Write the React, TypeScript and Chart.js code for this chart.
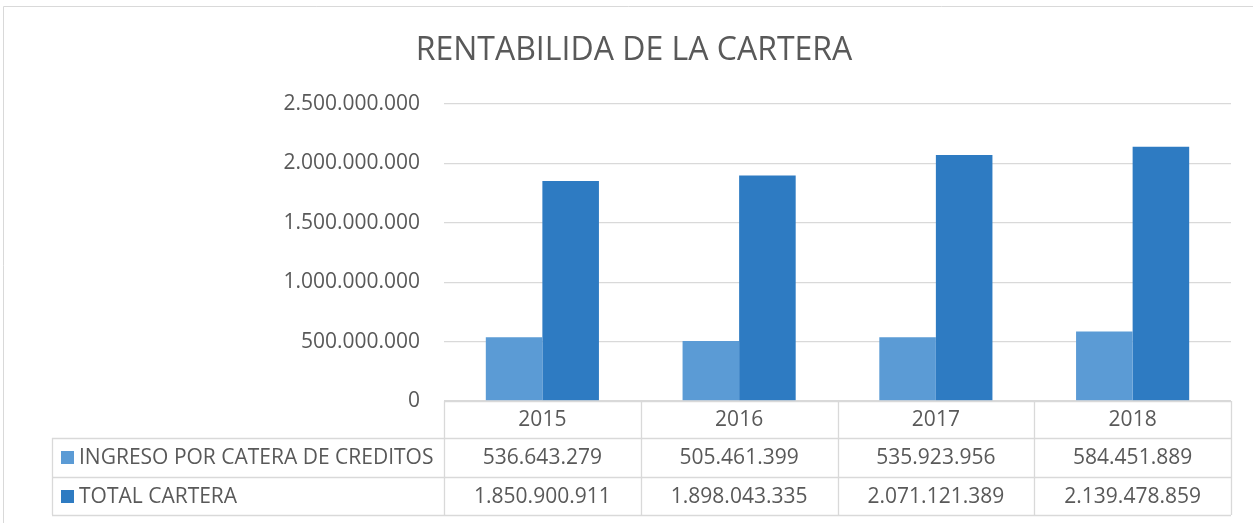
import React, { useEffect, useRef } from "react";
import { Chart, registerables } from "chart.js";

Chart.register(...registerables);

const title = "RENTABILIDA DE LA CARTERA";
const categories = ["2015", "2016", "2017", "2018"];
const seriesNames = ["INGRESO POR CATERA DE CREDITOS", "TOTAL CARTERA"];
const ingresoValues = [536643279, 505461399, 535923956, 584451889];
const totalValues = [1850900911, 1898043335, 2071121389, 2139478859];
const seriesColors = ["#5B9BD5", "#2E7BC2"];
const yMax = 2500000000;
const yStep = 500000000;

const FONT = "'Open Sans', sans-serif";
const TEXT = "#595959";
const LINE = "#D9D9D9";

function fmt(v: number): string {
  return Math.round(v)
    .toString()
    .replace(/\B(?=(\d{3})+(?!\d))/g, ".");
}

const tablePlugin = {
  id: "dataTable",
  afterDraw(chart: any) {
    const ctx = chart.ctx as CanvasRenderingContext2D;
    const area = chart.chartArea;
    const xs = chart.scales.x;
    const n = categories.length;
    const colW = (area.right - area.left) / n;
    const top = area.bottom;
    const tableLeft = 52;
    const rows = [top, top + 37, top + 76, top + 114];

    ctx.save();
    // title
    ctx.fillStyle = TEXT;
    ctx.font = `32px ${FONT}`;
    ctx.textAlign = "center";
    ctx.textBaseline = "middle";
    ctx.fillText(title, 634, 51);

    ctx.strokeStyle = LINE;
    ctx.lineWidth = 1;
    ctx.beginPath();
    ctx.moveTo(3.5, 600);
    ctx.lineTo(3.5, 6.5);
    ctx.lineTo(1300, 6.5);
    ctx.stroke();

    ctx.lineWidth = 1.3;
    ctx.beginPath();
    ctx.moveTo(area.left, rows[0] + 0.5);
    ctx.lineTo(area.right, rows[0] + 0.5);
    for (let r = 1; r < rows.length; r++) {
      ctx.moveTo(tableLeft, rows[r] + 0.5);
      ctx.lineTo(area.right, rows[r] + 0.5);
    }
    ctx.moveTo(tableLeft + 0.5, rows[1]);
    ctx.lineTo(tableLeft + 0.5, rows[3]);
    for (let i = 0; i <= n; i++) {
      const x = Math.round(area.left + i * colW) + 0.5;
      ctx.moveTo(x, rows[0]);
      ctx.lineTo(x, rows[3]);
    }
    ctx.stroke();

    ctx.fillStyle = TEXT;
    ctx.font = `21px ${FONT}`;
    ctx.textAlign = "center";
    ctx.textBaseline = "middle";
    const series = [ingresoValues, totalValues];
    for (let i = 0; i < n; i++) {
      const cx = xs.getPixelForValue(i);
      ctx.fillText(categories[i], cx, (rows[0] + rows[1]) / 2 + 1);
      for (let s = 0; s < series.length; s++) {
        ctx.fillText(fmt(series[s][i]), cx, (rows[s + 1] + rows[s + 2]) / 2 + 1);
      }
    }
    ctx.textAlign = "left";
    for (let s = 0; s < seriesNames.length; s++) {
      const cy = (rows[s + 1] + rows[s + 2]) / 2;
      ctx.fillStyle = seriesColors[s];
      ctx.fillRect(61, Math.round(cy - 6.5), 13, 13);
      ctx.fillStyle = TEXT;
      ctx.fillText(seriesNames[s], 79, cy + 1);
    }
    ctx.restore();
  },
};

export default function App() {
  const ref = useRef<HTMLCanvasElement | null>(null);

  useEffect(() => {
    if (!ref.current) return;
    const chart = new Chart(ref.current, {
      type: "bar",
      data: {
        labels: categories,
        datasets: [
          {
            label: seriesNames[0],
            data: ingresoValues,
            backgroundColor: seriesColors[0],
            borderWidth: 0,
          },
          {
            label: seriesNames[1],
            data: totalValues,
            backgroundColor: seriesColors[1],
            borderWidth: 0,
          },
        ],
      },
      options: {
        responsive: false,
        animation: false,
        maintainAspectRatio: false,
        layout: { padding: { top: 104, right: 22, bottom: 122, left: 0 } },
        datasets: { bar: { categoryPercentage: 0.575, barPercentage: 1 } },
        plugins: {
          legend: { display: false },
          tooltip: { enabled: false },
          title: { display: false },
        },
        scales: {
          x: { display: false },
          y: {
            min: 0,
            max: yMax,
            afterFit(scale: any) {
              scale.width = 444;
            },
            ticks: {
              stepSize: yStep,
              color: TEXT,
              font: { family: FONT, size: 21 },
              padding: 24,
              callback: (v: any) => fmt(Number(v)),
            },
            grid: { color: LINE, lineWidth: 1.3, drawTicks: false },
            border: { display: false },
          },
        },
      },
      plugins: [tablePlugin],
    });
    return () => chart.destroy();
  }, []);

  return (
    <div style={{ position: "absolute", left: 0, top: 0, width: 1253, height: 523, background: "#fff" }}>
      <canvas ref={ref} width={1253} height={523} style={{ width: 1253, height: 523 }} />
    </div>
  );
}
